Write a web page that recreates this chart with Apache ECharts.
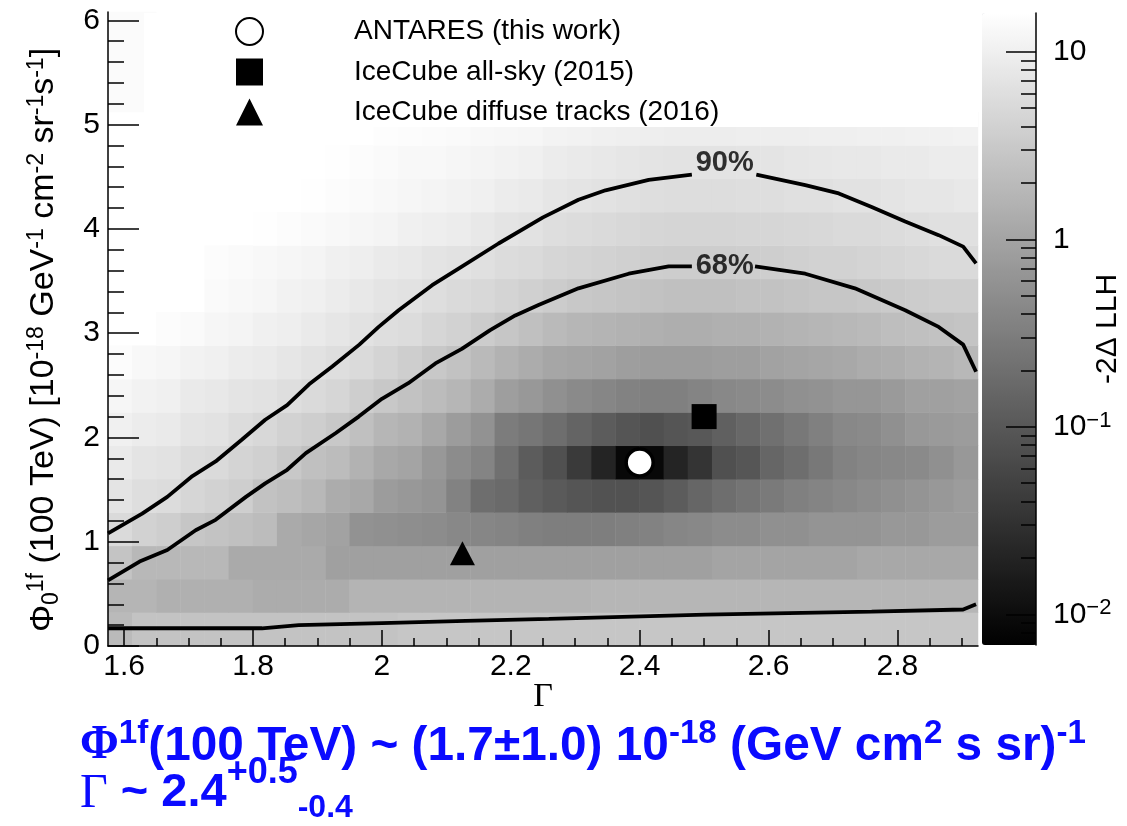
<!DOCTYPE html>
<html><head><meta charset="utf-8">
<script src="https://cdn.jsdelivr.net/npm/echarts@6/dist/echarts.min.js"></script>
<style>html,body{margin:0;padding:0;background:#fff}#c{width:1127px;height:826px}</style>
</head><body><div id="c"></div>
<script>
// ---- binning of the likelihood scan ----
const gammaMin = 1.575, gammaMax = 2.925, gammaBins = 36;
const phiMin = 0, phiMax = 6.08, phiBins = 19;
const cbMin = 0.00686, cbMax = 16.1;

// ---- -2ΔLLH per Φ row (row 0 = lowest Φ), 36 Γ columns; null = empty bin ----
const llh_r00 = [1.98,2.6,2.6,2.6,2.6,2.6,2.6,2.6,2.6,2.6,2.6,2.6,2.85,2.85,2.85,2.85,2.85,2.85,2.85,2.85,2.85,2.85,2.85,2.85,2.85,2.85,2.85,2.85,2.85,2.85,2.85,2.85,2.85,2.85,2.85,2.85];
const llh_r01 = [1.70,1.70,1.46,1.46,1.46,1.46,1.29,1.29,1.29,1.29,1.64,1.64,1.64,1.64,1.64,1.64,1.64,1.64,1.64,1.64,1.75,1.75,1.75,1.75,1.75,1.75,1.75,1.75,1.75,1.75,1.75,1.75,1.75,1.75,1.75,1.75];
const llh_r02 = [2.68,1.86,1.86,1.86,1.86,1.21,1.21,1.21,1.21,0.90,0.90,0.90,0.90,0.90,0.90,0.90,0.90,0.90,0.90,0.90,0.90,0.90,0.90,0.90,0.90,1.01,1.01,1.01,1.01,1.01,1.01,1.14,1.14,1.14,1.14,1.14];
const llh_r03 = [5.23,4.10,3.63,2.85,2.60,2.37,2.10,1.21,1.07,0.95,0.585,0.55,0.518,0.487,0.431,0.406,0.382,0.338,0.318,0.318,0.318,0.338,0.359,0.406,0.431,0.487,0.487,0.55,0.55,0.621,0.621,0.621,0.702,0.702,0.792,0.792];
const llh_r04 = [7.10,5.91,5.56,4.63,4.10,3.63,2.52,2.23,1.86,1.29,1.14,0.792,0.702,0.621,0.359,0.195,0.173,0.127,0.106,0.0912,0.0832,0.0832,0.0912,0.113,0.153,0.195,0.234,0.281,0.338,0.382,0.431,0.487,0.55,0.621,0.702,0.792];
const llh_r05 = [8.52,7.10,6.68,5.56,5.23,4.36,3.86,3.03,2.37,2.10,1.55,1.14,1.01,0.702,0.487,0.382,0.207,0.113,0.0783,0.0401,0.0205,0.00875,0.00875,0.0205,0.0334,0.0783,0.094,0.153,0.195,0.265,0.359,0.406,0.431,0.458,0.55,0.702];
const llh_r06 = [10.2,9.06,8.52,7.10,6.68,5.56,4.92,4.10,3.63,3.03,2.37,1.75,1.55,1.14,0.792,0.585,0.299,0.249,0.195,0.144,0.113,0.0912,0.0783,0.0912,0.100,0.127,0.163,0.207,0.265,0.338,0.431,0.458,0.55,0.702,0.746,0.792];
const llh_r07 = [12.3,10.9,10.2,8.52,8.02,7.10,6.68,5.91,5.23,4.63,3.63,3.03,2.52,2.10,1.75,1.29,0.842,0.702,0.55,0.458,0.406,0.359,0.338,0.338,0.382,0.431,0.458,0.487,0.55,0.585,0.66,0.66,0.746,0.895,0.895,0.951];
const llh_r08 = [14.7,13.0,12.3,10.9,10.2,9.06,8.52,7.55,6.68,5.91,5.23,4.36,3.63,3.03,2.52,1.98,1.55,1.29,1.07,1.01,0.951,0.842,0.792,0.792,0.792,0.842,0.842,0.951,1.01,1.07,1.14,1.29,1.37,1.55,1.64,1.86];
const llh_r09 = [null,null,14.7,13.9,12.3,11.6,10.2,9.62,8.52,7.55,6.68,5.91,5.56,4.63,4.10,3.42,2.85,2.37,1.98,1.75,1.64,1.55,1.46,1.37,1.37,1.46,1.46,1.55,1.64,1.75,1.86,1.98,2.23,2.37,2.52,2.68];
const llh_r10 = [null,null,null,null,13.9,13.0,12.3,10.9,10.2,9.06,8.02,7.10,6.68,5.91,5.23,4.92,4.36,3.86,3.42,3.03,2.85,2.68,2.52,2.37,2.37,2.37,2.52,2.52,2.68,2.85,2.85,3.03,3.21,3.42,3.63,3.63];
const llh_r11 = [null,null,null,null,14.7,13.9,13.0,12.3,11.6,10.2,9.62,8.52,8.02,7.10,6.68,6.28,5.56,5.23,4.63,4.36,4.10,3.86,3.63,3.52,3.52,3.52,3.63,3.63,3.86,4.10,4.10,4.36,4.63,4.92,5.23,5.23];
const llh_r12 = [null,null,null,null,null,null,15.7,14.7,13.9,13.0,12.3,11.6,10.2,9.62,9.06,8.02,7.10,6.68,5.91,5.56,5.23,4.92,4.63,4.49,4.49,4.49,4.63,4.63,4.77,4.92,5.23,5.23,5.56,5.91,6.28,6.28];
const llh_r13 = [null,null,null,null,null,null,null,null,15.7,14.7,13.9,13.0,12.3,11.6,10.9,10.2,9.06,8.52,7.55,7.10,6.68,6.28,5.91,5.73,5.73,5.73,5.91,5.91,6.28,6.28,6.68,6.68,7.10,7.55,7.55,8.02];
const llh_r14 = [null,null,null,null,null,null,null,null,null,15.7,14.7,13.9,13.0,13.0,12.3,11.6,10.9,10.2,9.06,8.52,8.02,7.55,7.10,6.89,6.89,6.89,7.10,7.10,7.55,7.78,8.02,8.02,8.52,8.52,9.06,9.06];
const llh_r15 = [null,null,null,null,null,null,null,null,null,null,null,15.2,14.7,14.3,13.9,13.0,12.6,12.3,11.2,10.9,10.2,9.92,9.62,9.33,9.33,9.33,9.62,9.62,9.62,9.92,9.92,10.2,10.2,10.5,10.5,10.9];
const llh_r16 = [14.3,14.3,null,null,null,null,null,null,null,null,null,null,null,null,null,null,null,null,null,null,null,null,null,null,null,null,null,null,null,null,null,null,null,null,null,null];
const llh_r17 = [14.3,14.3,null,null,null,null,null,null,null,null,null,null,null,null,null,null,null,null,null,null,null,null,null,null,null,null,null,null,null,null,null,null,null,null,null,null];
const llh_r18 = [14.3,14.3,null,null,null,null,null,null,null,null,null,null,null,null,null,null,null,null,null,null,null,null,null,null,null,null,null,null,null,null,null,null,null,null,null,null];
const llhRows = [llh_r00,llh_r01,llh_r02,llh_r03,llh_r04,llh_r05,llh_r06,llh_r07,llh_r08,llh_r09,llh_r10,llh_r11,llh_r12,llh_r13,llh_r14,llh_r15,llh_r16,llh_r17,llh_r18];

// ---- contours [Γ, Φ] ----
const c90Left = [[1.575,1.08],[1.628,1.27],[1.667,1.43],[1.706,1.63],[1.742,1.77],[1.783,1.98],[1.819,2.17],[1.853,2.31],[1.887,2.51],[1.923,2.68],[1.965,2.89],[1.995,3.06],[2.026,3.22],[2.078,3.46],[2.119,3.62],[2.181,3.86],[2.25,4.11],[2.305,4.28],[2.347,4.37],[2.414,4.47],[2.481,4.52]];
const c90Right = [[2.581,4.52],[2.657,4.42],[2.709,4.34],[2.760,4.21],[2.812,4.07],[2.864,3.94],[2.902,3.83],[2.922,3.67]];
const c68Left = [[1.575,0.63],[1.624,0.81],[1.667,0.92],[1.711,1.11],[1.742,1.21],[1.789,1.43],[1.819,1.56],[1.853,1.69],[1.882,1.85],[1.928,2.04],[1.964,2.20],[2.0,2.37],[2.041,2.52],[2.083,2.71],[2.124,2.85],[2.168,3.03],[2.207,3.17],[2.243,3.27],[2.305,3.43],[2.383,3.57],[2.445,3.64],[2.481,3.64]];
const c68Right = [[2.579,3.64],[2.657,3.57],[2.734,3.43],[2.812,3.22],[2.864,3.06],[2.902,2.89],[2.922,2.63]];
const cLow = [[1.575,0.17],[1.814,0.17],[1.871,0.20],[2.0,0.22],[2.13,0.24],[2.259,0.26],[2.502,0.30],[2.760,0.33],[2.902,0.35],[2.922,0.40]];
const contourLabels = [{name:'90%', value:[2.532,4.63]},{name:'68%', value:[2.532,3.64]}];

// ---- best fits ----
const antares = [[2.4,1.76]];
const icecubeAllSky = [[2.5,2.2]];
const icecubeTracks = [[2.125,0.89]];
const legendNames = ['ANTARES (this work)','IceCube all-sky (2015)','IceCube diffuse tracks (2016)'];

// ---- ticks ----
const xMajor = [1.6,1.8,2.0,2.2,2.4,2.6,2.8];
const xMajorLabels = ['1.6','1.8','2','2.2','2.4','2.6','2.8'];
const xMinor = [1.65,1.7,1.75,1.85,1.9,1.95,2.05,2.1,2.15,2.25,2.3,2.35,2.45,2.5,2.55,2.65,2.7,2.75,2.85,2.9];
const yMajor = [0,1,2,3,4,5,6];
const yMinor = [0.2,0.4,0.6,0.8,1.2,1.4,1.6,1.8,2.2,2.4,2.6,2.8,3.2,3.4,3.6,3.8,4.2,4.4,4.6,4.8,5.2,5.4,5.6,5.8];
const cbMajor = [0.01,0.1,1,10];
const cbMajorLabels = ['10{s|−2}','10{s|−1}','1','10'];
const cbMinor = [0.007,0.008,0.009,0.02,0.03,0.04,0.05,0.06,0.07,0.08,0.09,0.2,0.3,0.4,0.5,0.6,0.7,0.8,0.9,2,3,4,5,6,7,8,9];

const FONT = '"Liberation Sans", Arial, Helvetica, sans-serif';
const SERIF = '"Liberation Serif", "Times New Roman", serif';
const BLUE = '#0a0aff';

const heatData = [];
llhRows.forEach((row, j) => row.forEach((v, i) => { if (v != null) heatData.push([i, j, Math.log10(v)]); }));
const gammaCats = Array.from({length: gammaBins}, (_, i) => String(i));
const phiCats = Array.from({length: phiBins}, (_, j) => String(j));

const chart = echarts.init(document.getElementById('c'));
const mainGrid = {left:108, top:12, width:870, height:634, containLabel:false, outerBoundsMode:'none'};

const tickStyle = {color:'#000', width:1.5};
const lineSeries = (data) => ({type:'line', data, xAxisIndex:0, yAxisIndex:0, symbol:'none', showSymbol:false, silent:true, z:4,
  lineStyle:{color:'#000', width:3.8}, animation:false});

chart.setOption({
  animation:false,
  backgroundColor:'#fff',
  grid:[Object.assign({}, mainGrid), Object.assign({}, mainGrid),
        {left:982, top:13, width:54, height:632, containLabel:false, outerBoundsMode:'none'}],
  xAxis:[
    {gridIndex:0, type:'value', min:gammaMin, max:gammaMax, position:'bottom', z:10,
     axisLine:{show:true, onZero:false, lineStyle:{color:'#000', width:1.5}},
     axisTick:{show:true, inside:true, length:16, customValues:xMajor, lineStyle:tickStyle},
     axisLabel:{show:true, customValues:xMajor, margin:6, fontSize:30, color:'#000', fontFamily:FONT,
       formatter:(v)=>{const k = xMajor.findIndex(t=>Math.abs(t-v)<1e-6); return k>=0 ? xMajorLabels[k] : '';}},
     splitLine:{show:false},
     name:'Γ', nameLocation:'middle', nameGap:34, nameMoveOverlap:false,
     nameTextStyle:{fontSize:34, fontFamily:SERIF, color:'#000'}},
    {gridIndex:0, type:'value', min:gammaMin, max:gammaMax, position:'bottom', z:10,
     axisLine:{show:false, onZero:false}, axisTick:{show:true, inside:true, length:8, customValues:xMinor, lineStyle:tickStyle},
     axisLabel:{show:false}, splitLine:{show:false}},
    {gridIndex:1, type:'category', data:gammaCats, show:false},
    {gridIndex:2, type:'value', show:false, min:0, max:1}
  ],
  yAxis:[
    {gridIndex:0, type:'value', min:phiMin, max:phiMax, position:'left', z:10,
     axisLine:{show:true, onZero:false, lineStyle:{color:'#000', width:1.5}},
     axisTick:{show:true, inside:true, length:31, customValues:yMajor, lineStyle:tickStyle},
     axisLabel:{show:true, customValues:yMajor, margin:8, fontSize:30, color:'#000', fontFamily:FONT, formatter:(v)=>String(Math.round(v))},
     splitLine:{show:false},
     name:'{b|Φ}{sub|0}{sup|1f}{b| (100 TeV) [10}{sup|-18}{b| GeV}{sup|-1}{b| cm}{sup|-2}{b| sr}{sup|-1}{b|s}{sup|-1}{b|]}{gap|}',
     nameLocation:'middle', nameGap:45, nameRotate:90, nameMoveOverlap:false,
     nameTextStyle:{color:'#000', fontFamily:FONT, rich:{
       b:{fontSize:34, fontFamily:FONT, color:'#000'},
       gap:{width:22},
       sup:{fontSize:23, fontFamily:FONT, color:'#000', verticalAlign:'top', padding:[0,0,15,0]},
       sub:{fontSize:23, fontFamily:FONT, color:'#000', verticalAlign:'bottom', padding:[15,0,0,0]}}}},
    {gridIndex:0, type:'value', min:phiMin, max:phiMax, position:'left', z:10,
     axisLine:{show:false, onZero:false}, axisTick:{show:true, inside:true, length:16, customValues:yMinor, lineStyle:tickStyle},
     axisLabel:{show:false}, splitLine:{show:false}},
    {gridIndex:1, type:'category', data:phiCats, show:false},
    {gridIndex:2, type:'value', min:Math.log10(cbMin), max:Math.log10(cbMax), position:'right', z:10,
     axisLine:{show:true, onZero:false, lineStyle:{color:'#000', width:1.5}},
     axisTick:{show:true, inside:true, length:30, customValues:cbMajor.map(Math.log10), lineStyle:tickStyle},
     axisLabel:{show:true, customValues:cbMajor.map(Math.log10), margin:17, fontSize:30, color:'#000', fontFamily:FONT,
       formatter:(v)=>cbMajorLabels[Math.round(v)+2] || '',
       rich:{s:{fontSize:22, fontFamily:FONT, color:'#000', verticalAlign:'top', padding:[0,0,12,0]}}},
     splitLine:{show:false},
     name:'-2Δ LLH', nameLocation:'middle', nameRotate:90, nameGap:57, nameMoveOverlap:false,
     nameTextStyle:{fontSize:30, fontFamily:FONT, color:'#000'}},
    {gridIndex:2, type:'value', min:Math.log10(cbMin), max:Math.log10(cbMax), position:'right', z:10,
     axisLine:{show:false, onZero:false}, axisTick:{show:true, inside:true, length:15, customValues:cbMinor.map(Math.log10), lineStyle:tickStyle},
     axisLabel:{show:false}, splitLine:{show:false}}
  ],
  visualMap:{type:'continuous', seriesIndex:0, dimension:2, min:Math.log10(cbMin), max:Math.log10(cbMax),
    inRange:{color:['#000000','#ffffff']}, calculable:false, hoverLink:false, show:true,
    left:982, top:13, itemWidth:54, itemHeight:632, padding:0, text:null, orient:'vertical'},
  legend:{show:true, orient:'vertical', left:230, top:12, itemWidth:27, itemHeight:27, itemGap:12, z:20,
    data:legendNames, selectedMode:false, formatter:(n)=>'{pad|}'+n,
    textStyle:{fontSize:28, color:'#000', fontFamily:FONT, rich:{pad:{width:86}}}},
  graphic:[
    {type:'rect', z:15, silent:true, shape:{x:144, y:13, width:834, height:114}, style:{fill:'#fff'}},
    {type:'text', z:30, left:80, top:717, scaleX:0.975, silent:true, style:{
      text:'{phi|Φ}{sup|1f}{t|(100 TeV) ~ (1.7±1.0) 10}{sup|-18}{t| (GeV cm}{sup|2}{t| s sr)}{sup|-1}',
      fill:BLUE, rich:{
        phi:{fontSize:48, fontFamily:SERIF, fontWeight:'bold', fill:BLUE, verticalAlign:'top', padding:[5,0,0,0]},
        t:{fontSize:49, fontFamily:FONT, fontWeight:'bold', fill:BLUE, verticalAlign:'top', padding:[5,0,0,0]},
        sup:{fontSize:34, fontFamily:FONT, fontWeight:'bold', fill:BLUE, verticalAlign:'top', padding:[0,0,0,0]}}}},
    {type:'text', z:30, left:80, top:755, silent:true, style:{
      text:'{g|Γ}{t| ~ 2.4}{sup|+0.5}{sub|-0.4}',
      fill:BLUE, rich:{
        g:{fontSize:48, fontFamily:SERIF, fill:BLUE, verticalAlign:'top', padding:[15,0,0,0]},
        t:{fontSize:47, fontFamily:FONT, fontWeight:'bold', fill:BLUE, verticalAlign:'top', padding:[15,0,0,0]},
        sup:{fontSize:36, fontFamily:FONT, fontWeight:'bold', fill:BLUE, verticalAlign:'top', padding:[0,0,0,0]},
        sub:{fontSize:32, fontFamily:FONT, fontWeight:'bold', fill:BLUE, verticalAlign:'top', padding:[37,0,0,0]}}}}
  ],
  series:[
    {type:'heatmap', xAxisIndex:2, yAxisIndex:2, data:heatData, z:1, silent:true, progressive:0,
     itemStyle:{borderWidth:0}, emphasis:{disabled:true}},
    lineSeries(cLow), lineSeries(c68Left), lineSeries(c68Right), lineSeries(c90Left), lineSeries(c90Right),
    {type:'scatter', name:legendNames[0], data:antares, xAxisIndex:0, yAxisIndex:0, symbol:'circle', symbolSize:27, z:6,
     itemStyle:{color:'#fff', borderColor:'#000', borderWidth:3.5, opacity:1}},
    {type:'scatter', name:legendNames[1], data:icecubeAllSky, xAxisIndex:0, yAxisIndex:0, symbol:'rect', symbolSize:25, z:6,
     itemStyle:{color:'#000', opacity:1}},
    {type:'scatter', name:legendNames[2], data:icecubeTracks, xAxisIndex:0, yAxisIndex:0, symbol:'triangle', symbolSize:[25,24], z:6,
     itemStyle:{color:'#000', opacity:1}},
    {type:'scatter', data:contourLabels, xAxisIndex:0, yAxisIndex:0, symbolSize:1, z:7, silent:true,
     itemStyle:{color:'rgba(0,0,0,0)'},
     label:{show:true, position:'inside', formatter:'{b}', fontSize:29, fontWeight:'bold', color:'#000', fontFamily:FONT}}
  ]
});
</script></body></html>
